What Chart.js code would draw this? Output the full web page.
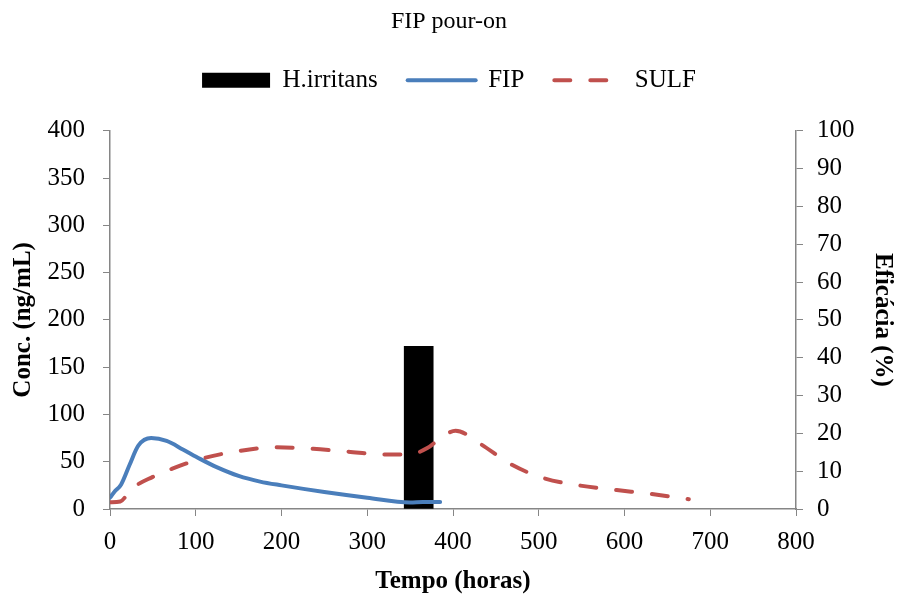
<!DOCTYPE html>
<html>
<head>
<meta charset="utf-8">
<script src="https://cdn.jsdelivr.net/npm/chart.js@4/dist/chart.umd.min.js"></script>
<style>
  html, body { margin: 0; padding: 0; background: #fff; }
  #wrap { width: 898px; height: 595px; }
</style>
</head>
<body>
<div id="wrap"><canvas id="grafico"></canvas></div>
<script>
// Dados
const horasFip = [0, 5, 13, 23, 33, 48, 66, 85, 105, 125, 150, 175, 200, 250, 300, 350, 365, 385];
const concFip = [12, 18, 26, 47, 67, 75, 72, 63, 53, 44, 35, 29, 25, 18, 12, 7, 7.5, 7.5];

const horasSulf = [0, 12, 25, 50, 72, 105, 152, 194, 237, 276, 319, 350, 370, 389, 403, 432, 467, 505, 548, 591, 630, 675];
const eficSulf = [1.8, 2.0, 5.3, 8.5, 10.6, 13.2, 15.4, 16.3, 15.9, 15.2, 14.4, 14.5, 16.1, 19.4, 20.7, 17.2, 11.9, 8.2, 6.2, 5.0, 4.0, 2.6];

const horasMosca = [360];
const eficMosca = [43];

const xTicks = [0, 100, 200, 300, 400, 500, 600, 700, 800];

const serif = "'Liberation Serif', 'Times New Roman', serif";
const eixoCor = '#868686';

const pontos = (xs, ys) => xs.map((x, i) => ({ x: x, y: ys[i] }));

// espaço extra entre a legenda e o gráfico
const legendGap = {
    id: 'legendGap',
    beforeInit(chart) {
        const fit = chart.legend.fit;
        chart.legend.fit = function () {
            fit.bind(chart.legend)();
            this.height += 28;
        };
    }
};

new Chart(document.getElementById('grafico'), {
    type: 'line',
    data: {
        datasets: [
            {
                type: 'bar',
                label: 'H.irritans',
                data: pontos(horasMosca, eficMosca),
                backgroundColor: '#000',
                borderWidth: 0,
                barThickness: 29,
                yAxisID: 'y1',
                pointStyle: 'rect',
                order: 2
            },
            {
                label: 'FIP',
                data: pontos(horasFip, concFip),
                borderColor: '#4a7ebb',
                backgroundColor: '#4a7ebb',
                borderWidth: 4,
                pointRadius: 0,
                cubicInterpolationMode: 'monotone',
                borderCapStyle: 'round',
                pointStyle: 'line',
                yAxisID: 'y',
                order: 1
            },
            {
                label: 'SULF',
                data: pontos(horasSulf, eficSulf),
                borderColor: '#c0504d',
                backgroundColor: '#c0504d',
                borderWidth: 4,
                borderDash: [16, 20],
                borderCapStyle: 'round',
                pointRadius: 0,
                cubicInterpolationMode: 'monotone',
                pointStyle: 'line',
                yAxisID: 'y1',
                order: 0
            }
        ]
    },
    options: {
        responsive: true,
        maintainAspectRatio: false,
        animation: false,
        layout: { padding: 0 },
        plugins: {
            title: {
                display: true,
                text: 'FIP pour-on',
                color: '#000',
                font: { family: serif, size: 24, weight: 'normal' },
                padding: { top: 7, bottom: 2 }
            },
            legend: {
                position: 'top',
                labels: {
                    color: '#000',
                    font: { family: serif, size: 25 },
                    usePointStyle: true,
                    pointStyleWidth: 68,
                    boxHeight: 15,
                    padding: 30,
                    sort: (a, b) => a.datasetIndex - b.datasetIndex,
                    generateLabels: (chart) => {
                        const itens = Chart.defaults.plugins.legend.labels.generateLabels(chart);
                        itens.forEach(it => {
                            const ds = chart.data.datasets[it.datasetIndex];
                            it.lineDash = ds.borderDash || [];
                            it.lineCap = 'round';
                            if (ds.type !== 'bar') it.lineWidth = 4;
                        });
                        return itens;
                    }
                }
            },
            tooltip: { enabled: false }
        },
        scales: {
            x: {
                type: 'linear',
                min: 0,
                max: 800,
                offset: false,
                afterBuildTicks: (s) => { s.ticks = xTicks.map(v => ({ value: v })); },
                afterFit: (s) => { s.height = 86; },
                grid: { drawOnChartArea: false, offset: false, color: eixoCor, tickLength: 7 },
                border: { color: eixoCor, width: 1.5 },
                ticks: { color: '#000', font: { family: serif, size: 25 }, padding: 11 },
                title: {
                    display: true,
                    text: 'Tempo (horas)',
                    color: '#000',
                    font: { family: serif, size: 25, weight: 'bold', lineHeight: 1.1 },
                    padding: 0
                }
            },
            y: {
                position: 'left',
                min: 0,
                max: 400,
                ticks: { stepSize: 50, color: '#000', font: { family: serif, size: 25 }, padding: 18 },
                afterFit: (s) => { s.width = 110; },
                grid: { drawOnChartArea: false, color: eixoCor, tickLength: 7 },
                border: { color: eixoCor, width: 1.5 },
                title: {
                    display: true,
                    text: 'Conc. (ng/mL)',
                    color: '#000',
                    font: { family: serif, size: 25, weight: 'bold', lineHeight: 1.1 },
                    padding: { top: 10, bottom: 0 }
                }
            },
            y1: {
                position: 'right',
                min: 0,
                max: 100,
                ticks: { stepSize: 10, color: '#000', font: { family: serif, size: 25 }, padding: 14 },
                afterFit: (s) => { s.width = 102; },
                grid: { drawOnChartArea: false, color: eixoCor, tickLength: 7 },
                border: { color: eixoCor, width: 1.5 },
                title: {
                    display: true,
                    text: 'Eficácia (%)',
                    color: '#000',
                    font: { family: serif, size: 25, weight: 'bold', lineHeight: 1.1 },
                    padding: { top: 2, bottom: 0 }
                }
            }
        }
    },
    plugins: [legendGap]
});
</script>
</body>
</html>
